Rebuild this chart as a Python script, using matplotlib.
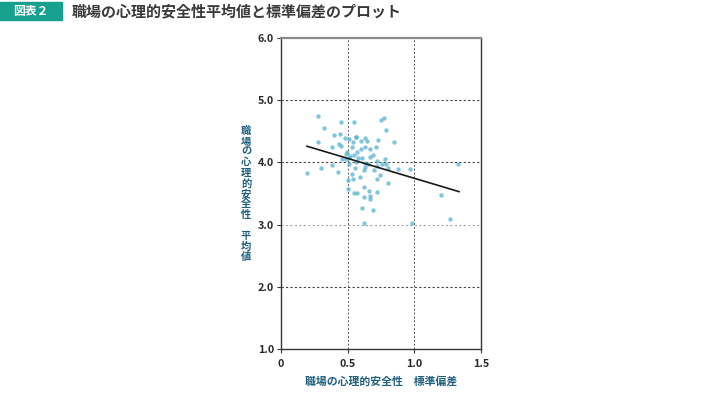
"""Scatter of workplace psychological safety: mean vs. standard deviation."""
import matplotlib
matplotlib.use("Agg")
import matplotlib.pyplot as plt
from matplotlib.patches import Rectangle

plt.rcParams["font.family"] = ["Noto Sans CJK JP", "DejaVu Sans"]

TITLE = "職場の心理的安全性平均値と標準偏差のプロット"
BADGE = "図表２"
X_LABEL = "職場の心理的安全性　標準偏差"
Y_LABEL = "職場の心理的安全性　平均値"

# standard deviation (x) and mean (y) per workplace
sd = [0.28, 0.32, 0.45, 0.55, 0.75, 0.775, 0.79, 0.40, 0.44, 0.48,
      0.51, 0.56, 0.56, 0.63, 0.645, 0.73, 0.85, 0.28, 0.38, 0.435,
      0.45, 0.54, 0.53, 0.60, 0.60, 0.63, 0.67, 0.71, 0.495, 0.49,
      0.57, 0.55, 0.69, 0.67, 0.46, 0.485, 0.51, 0.52, 0.58, 0.61,
      0.56, 0.51, 0.63, 0.65, 0.72, 0.78, 0.72, 0.76, 0.79, 0.80,
      0.88, 0.97, 1.33, 0.195, 0.30, 0.38, 0.425, 0.53, 0.555, 0.63,
      0.62, 0.70, 0.74, 0.72, 0.80, 0.595, 0.54, 0.50, 0.50, 0.62,
      0.66, 0.72, 0.55, 0.57, 0.62, 0.67, 0.665, 0.61, 0.69, 1.20,
      1.265, 0.62, 0.985]
mean = [4.75, 4.55, 4.65, 4.65, 4.68, 4.72, 4.52, 4.44, 4.46, 4.39,
        4.38, 4.41, 4.41, 4.39, 4.35, 4.36, 4.32, 4.32, 4.25, 4.29,
        4.26, 4.32, 4.25, 4.34, 4.22, 4.24, 4.22, 4.24, 4.17, 4.13,
        4.16, 4.12, 4.12, 4.08, 4.05, 4.05, 4.07, 4.10, 4.07, 4.07,
        4.00, 3.98, 3.99, 3.98, 4.02, 4.05, 3.95, 3.98, 3.97, 3.91,
        3.90, 3.89, 3.98, 3.83, 3.91, 3.96, 3.85, 3.82, 3.91, 3.93,
        3.88, 3.88, 3.80, 3.73, 3.67, 3.77, 3.73, 3.72, 3.58, 3.60,
        3.54, 3.52, 3.51, 3.50, 3.45, 3.46, 3.41, 3.26, 3.24, 3.47,
        3.09, 3.03, 3.03]

# regression line end points
fit_x = [0.195, 1.335]
fit_y = [4.26, 3.53]

x_ticks = [0, 0.5, 1.0, 1.5]
x_tick_labels = ["0", "0.5", "1.0", "1.5"]
y_ticks = [1.0, 2.0, 3.0, 4.0, 5.0, 6.0]
y_tick_labels = ["1.0", "2.0", "3.0", "4.0", "5.0", "6.0"]

TEAL = "#17a08d"
LABEL_BLUE = "#1f5f7f"
DARK = "#3d3535"

fig = plt.figure(figsize=(7.28, 3.98), dpi=100)

# header badge + title
fig.patches.append(Rectangle((0, 1 - 20 / 398), 62 / 728, 18 / 398,
                             transform=fig.transFigure, color=TEAL))
fig.text(31 / 728, 1 - 11 / 398, BADGE, color="white", fontsize=8.5,
         fontweight="bold", ha="center", va="center")
fig.text(72 / 728, 1 - 11 / 398, TITLE, color="#3a3a3a", fontsize=10.8,
         fontweight="bold", ha="left", va="center")

ax = fig.add_axes([281 / 728, 1 - 349 / 398, 200 / 728, 311 / 398])
ax.set_xlim(0, 1.5)
ax.set_ylim(1.0, 6.0)

for v in [0.5, 1.0]:
    ax.axvline(v, color="#555555", linestyle=(0, (2, 2)), linewidth=0.7, zorder=0)
for v, c in [(2.0, "#444444"), (3.0, "#aaaaaa"), (4.0, "#444444"), (5.0, "#444444")]:
    ax.axhline(v, color=c, linestyle=(0, (2, 2)), linewidth=0.8, zorder=0)

ax.scatter(sd, mean, s=10, color="#5ab3d1", alpha=0.75, linewidths=0, zorder=2)
ax.plot(fit_x, fit_y, color="#1a1a1a", linewidth=1.2, zorder=3)

ax.set_xticks(x_ticks)
ax.set_xticklabels(x_tick_labels)
ax.set_yticks(y_ticks)
ax.set_yticklabels(y_tick_labels)
ax.tick_params(axis="both", length=3, width=0.8, color=DARK, labelsize=7.8,
               labelcolor="#2a2a2a", pad=2)
for lab in ax.get_xticklabels() + ax.get_yticklabels():
    lab.set_fontweight("bold")
ax.tick_params(axis="x", pad=4)

for side in ["left", "bottom", "right"]:
    ax.spines[side].set_color(DARK)
    ax.spines[side].set_linewidth(1.0)
ax.spines["top"].set_color("#8a8a8a")
ax.spines["top"].set_linewidth(1.6)

fig.text(381 / 728, 1 - 381 / 398, X_LABEL, color=LABEL_BLUE, fontsize=7.8,
         fontweight="bold", ha="center", va="center")
fig.text(246 / 728, 1 - 194 / 398, "\n".join(Y_LABEL), color=LABEL_BLUE,
         fontsize=7.4, fontweight="bold", ha="center", va="center",
         linespacing=1.06)

fig.savefig("out.png", dpi=100)
